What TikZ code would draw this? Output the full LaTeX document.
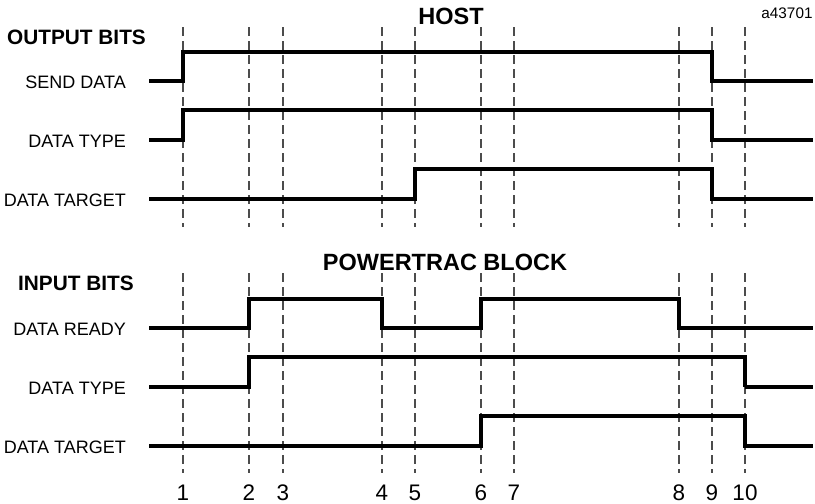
\documentclass[tikz,border=0pt]{standalone}
\usepackage{fontspec}
\setmainfont{Liberation Sans}
\usepackage{tikz}
\usetikzlibrary{positioning}
\tikzset{
  sig/.style={line width=3.2pt},
  tick/.style={draw=black!70,line width=1.1pt,dash pattern=on 9pt off 5pt},
  lbl/.style={anchor=east,inner sep=0pt,font=\fontsize{18}{18}\selectfont},
  head/.style={anchor=west,inner sep=0pt,font=\fontsize{20.8}{21}\selectfont\bfseries},
  title/.style={inner sep=0pt,font=\fontsize{23.5}{24}\selectfont\bfseries},
  num/.style={inner sep=0pt,font=\fontsize{22.5}{23}\selectfont},
}

\begin{document}
\begin{tikzpicture}[x=1pt,y=-1pt]
\useasboundingbox (0,0) rectangle (815,504);
% time marks
\foreach \n/\x in {1/183,2/249,3/283,4/382,5/415,6/481,7/514,8/679,9/712,10/745}{
  \coordinate (t\n) at (\x,0);
  \draw[tick] (\x,27) -- (\x,227);
  \draw[tick] (\x,273) -- (\x,473);
  \node[num] (n\n) at (\x,493) {\n};
}
\node[title] (host) at (451,16) {HOST};
\node[title] (pb) at (445,262) {POWERTRAC BLOCK};
\node[inner sep=0pt,font=\fontsize{15.3}{16}\selectfont] (id) at (787,13) {a43701};
\node[head] (out) at (7,37) {OUTPUT BITS};
\node[head] (in) at (18,283) {INPUT BITS};
% output bits
\node[lbl] (sd) at (126,82) {SEND DATA};
\node[lbl] (dt1) at (126,141) {DATA TYPE};
\node[lbl] (dg1) at (126,200) {DATA TARGET};
\draw[sig] (149,81) -- (183,81) -- (183,52) -- (712,52) -- (712,81) -- (813,81);
\draw[sig] (149,140) -- (183,140) -- (183,110) -- (712,110) -- (712,140) -- (813,140);
\draw[sig] (149,199) -- (415,199) -- (415,169) -- (712,169) -- (712,199) -- (813,199);
% input bits
\node[lbl] (dr) at (126,329) {DATA READY};
\node[lbl] (dt2) at (126,388) {DATA TYPE};
\node[lbl] (dg2) at (126,447) {DATA TARGET};
\draw[sig] (149,328) -- (249,328) -- (249,299) -- (382,299) -- (382,328) -- (481,328)
  -- (481,299) -- (679,299) -- (679,328) -- (813,328);
\draw[sig] (149,387) -- (249,387) -- (249,357) -- (745,357) -- (745,387);
\draw[line width=4.4pt] (745,387) -- (813,387);
\draw[sig] (149,446) -- (481,446) -- (481,416) -- (745,416) -- (745,446) -- (813,446);
\end{tikzpicture}
\end{document}
